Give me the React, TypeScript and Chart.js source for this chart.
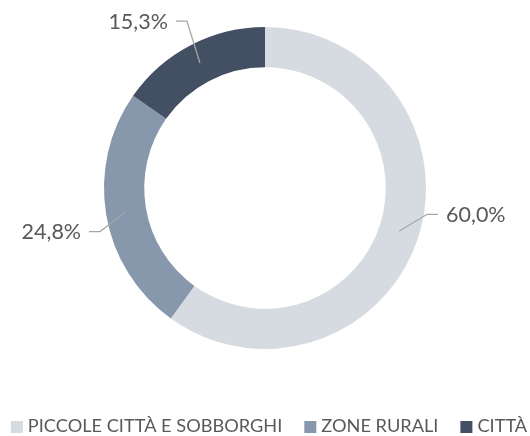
import React, { useEffect, useRef } from "react";
import { Chart, registerables } from "chart.js";

Chart.register(...registerables);

const categories = ["PICCOLE CITTÀ E SOBBORGHI", "ZONE RURALI", "CITTÀ"];
const values = [60.0, 24.8, 15.3];
const colors = ["#d6dbe1", "#8797ac", "#435063"];
// leader-line elbow offsets (dx, dy) from the ring mid-point of each slice
const elbowOffsets: [number, number][] = [
  [28, -17],
  [-26, 20],
  [-13, -42],
];

const FONT = "Lato, 'Open Sans', sans-serif";
const TEXT = "#595959";

const fmt = (v: number) => v.toFixed(1).replace(".", ",") + "%";

const leaderPlugin = {
  id: "leaderLabels",
  afterDatasetsDraw(chart: any) {
    const ctx = chart.ctx;
    const meta = chart.getDatasetMeta(0);
    ctx.save();
    meta.data.forEach((arc: any, i: number) => {
      const p = arc.getProps(["x", "y", "startAngle", "endAngle", "innerRadius", "outerRadius"], true);
      const mid = (p.startAngle + p.endAngle) / 2;
      const r = (p.innerRadius + p.outerRadius) / 2;
      const ax = p.x + Math.cos(mid) * r;
      const ay = p.y + Math.sin(mid) * r;
      const [dx, dy] = elbowOffsets[i];
      const ex = ax + dx;
      const ey = ay + dy;
      const dir = dx >= 0 ? 1 : -1;
      const hx = ex + dir * 11;
      ctx.strokeStyle = "#a6a6a6";
      ctx.lineWidth = 1.3;
      ctx.beginPath();
      ctx.moveTo(ax, ay);
      ctx.lineTo(ex, ey);
      ctx.lineTo(hx, ey);
      ctx.stroke();
      ctx.fillStyle = TEXT;
      ctx.font = `21.5px ${FONT}`;
      ctx.textBaseline = "middle";
      ctx.textAlign = dir > 0 ? "left" : "right";
      ctx.fillText(fmt(values[i]), hx + dir * 8, ey + 1);
    });
    ctx.restore();
  },
};

const legendPlugin = {
  id: "bottomLegend",
  afterDraw(chart: any) {
    const ctx = chart.ctx;
    const box = 12;
    const gapText = 5;
    const gapItem = 22;
    ctx.save();
    ctx.font = `18.2px ${FONT}`;
    const widths = categories.map((c) => ctx.measureText(c).width);
    const total =
      widths.reduce((a, w) => a + box + gapText + w, 0) + gapItem * (categories.length - 1);
    let x = (chart.width - total) / 2 + 4;
    const y = chart.height - 10;
    categories.forEach((c, i) => {
      ctx.fillStyle = colors[i];
      ctx.fillRect(x, y - box / 2 + 1, box, box);
      x += box + gapText;
      ctx.fillStyle = TEXT;
      ctx.textBaseline = "middle";
      ctx.textAlign = "left";
      ctx.fillText(c, x, y);
      x += widths[i] + gapItem;
    });
    ctx.restore();
  },
};

export default function App() {
  const ref = useRef<HTMLCanvasElement>(null);
  useEffect(() => {
    if (!ref.current) return;
    const chart = new Chart(ref.current, {
      type: "doughnut",
      data: {
        labels: categories,
        datasets: [
          {
            data: values,
            backgroundColor: colors,
            borderWidth: 0,
          },
        ],
      },
      options: {
        responsive: true,
        maintainAspectRatio: false,
        animation: false,
        cutout: "75%",
        layout: { padding: { top: 27, bottom: 87, left: 0, right: 0 } },
        plugins: {
          tooltip: { enabled: false },
          legend: { display: false },
        },
      },
      plugins: [leaderPlugin, legendPlugin],
    });
    return () => chart.destroy();
  }, []);
  return (
    <div style={{ position: "fixed", left: 0, top: 0, width: 530, height: 436, background: "#fff" }}>
      <canvas ref={ref} />
    </div>
  );
}
